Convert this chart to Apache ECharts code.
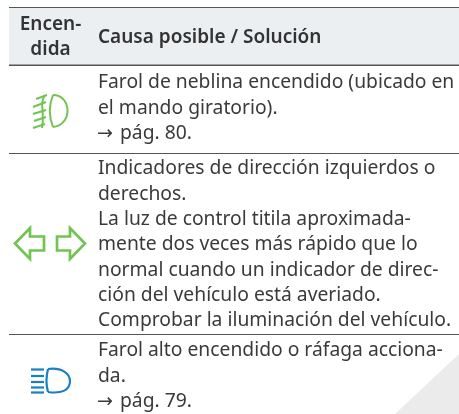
<!DOCTYPE html>
<html><head><meta charset="utf-8">
<style>html,body{margin:0;padding:0;background:#fff}#c{width:459px;height:414px}</style>
<script src="https://cdn.jsdelivr.net/npm/echarts@6/dist/echarts.min.js"></script>
</head><body><div id="c"></div>
<script>
var headerLeft = ['Encen-', 'dida'];
var headerRight = 'Causa posible / Solución';
var row1 = ['Farol de neblina encendido (ubicado en', 'el mando giratorio).'];
var row1Ref = 'pág. 80.';
var row2 = ['Indicadores de dirección izquierdos o', 'derechos.', 'La luz de control titila aproximada-', 'mente dos veces más rápido que lo', 'normal cuando un indicador de direc-', 'ción del vehículo está averiado.', 'Comprobar la iluminación del vehículo.'];
var row3 = ['Farol alto encendido o ráfaga acciona-', 'da.'];
var row3Ref = 'pág. 79.';
var FONT = '"Noto Sans", sans-serif', INK = '#3a3a3a';
var G = [];
function txt(s, x, y, o) {
  G.push({type:'text', x:x, y:y, z:5, style:Object.assign({text:s, font:'400 19.3px '+FONT, fill:INK, textAlign:'left', textVerticalAlign:'middle'}, o||{})});
}
function lines(arr, x, y0, dy) { arr.forEach(function(s,i){ txt(s, x, y0+i*dy); }); }
function rule(y, h) { G.push({type:'rect', shape:{x:9,y:y,width:450,height:h}, z:3, style:{fill:'#555'}}); }
G.push({type:'polygon', shape:{points:[[459,354],[459,414],[395,414]]}, style:{fill:'#ebebeb'}});
G.push({type:'rect', shape:{x:9,y:8,width:450,height:57}, style:{fill:'#eceff2'}});
rule(7,1); rule(64.5,1.6); rule(153,1); rule(334,1);
var B = '600 19px '+FONT;
txt(headerLeft[0], 50.5, 25, {font:B, textAlign:'center', fill:'#333'});
txt(headerLeft[1], 50.5, 50, {font:B, textAlign:'center', fill:'#333'});
txt(headerRight, 98, 38, {font:B, fill:'#333'});
lines(row1, 98, 83, 25.6);
txt('→', 97, 134, {font:'400 19px "DejaVu Sans"'}); txt(row1Ref, 120, 134);
lines(row2, 98, 169, 25.3);
lines(row3, 98, 351, 25.6);
txt('→', 97, 402, {font:'400 19px "DejaVu Sans"'}); txt(row3Ref, 120, 402);
var GR='#72c452', BL='#1a7fc4';
function L(x1,y1,x2,y2,c,w){ G.push({type:'line', z:4, shape:{x1:x1,y1:y1,x2:x2,y2:y2}, style:{stroke:c, lineWidth:w}}); }
function C(a,c,w){ G.push({type:'bezierCurve', z:4, shape:{x1:a[0],y1:a[1],cpx1:a[2],cpy1:a[3],cpx2:a[4],cpy2:a[5],x2:a[6],y2:a[7]}, style:{stroke:c, lineWidth:w, fill:'none'}}); }
function PG(pts,c,w){ G.push({type:'polygon', z:4, shape:{points:pts}, style:{fill:'none', stroke:c, lineWidth:w}}); }
// fog lamp
C([53,95,62,95,67.5,102,67.5,111],GR,2); C([67.5,111,67.5,119,62,126,53,127],GR,2); C([53,95,49,105,49,117,53,127],GR,2);
C([45,95,39,104,45,112,42,128],GR,2);
[[36,99,47,95],[33,107,46,102],[33,114,46,110],[34,121,46,117],[33,128,45,124]].forEach(function(a){L(a[0],a[1],a[2],a[3],GR,2);});
// turn arrows
PG([[15,243.5],[30,228],[30,236.5],[44,236.5],[44,250.5],[30,250.5],[30,259]],GR,2.7);
PG([[85,243.5],[70,228],[70,236.5],[57,236.5],[57,250.5],[70,250.5],[70,259]],GR,2.7);
// high beam
C([48,369,62,367,70,374,70,381],BL,2.2); C([70,381,70,390,62,394,48,392],BL,2.2); C([48,369,46,377,46,385,48,392],BL,2.2);
[369.5,376,382,387.5,392.5].forEach(function(y){L(31,y,44,y,BL,2.2);});
var chart = echarts.init(document.getElementById('c'), null, {renderer:'canvas'});
chart.setOption({animation:false, backgroundColor:'#fff', graphic:{elements:G}});
</script></body></html>
